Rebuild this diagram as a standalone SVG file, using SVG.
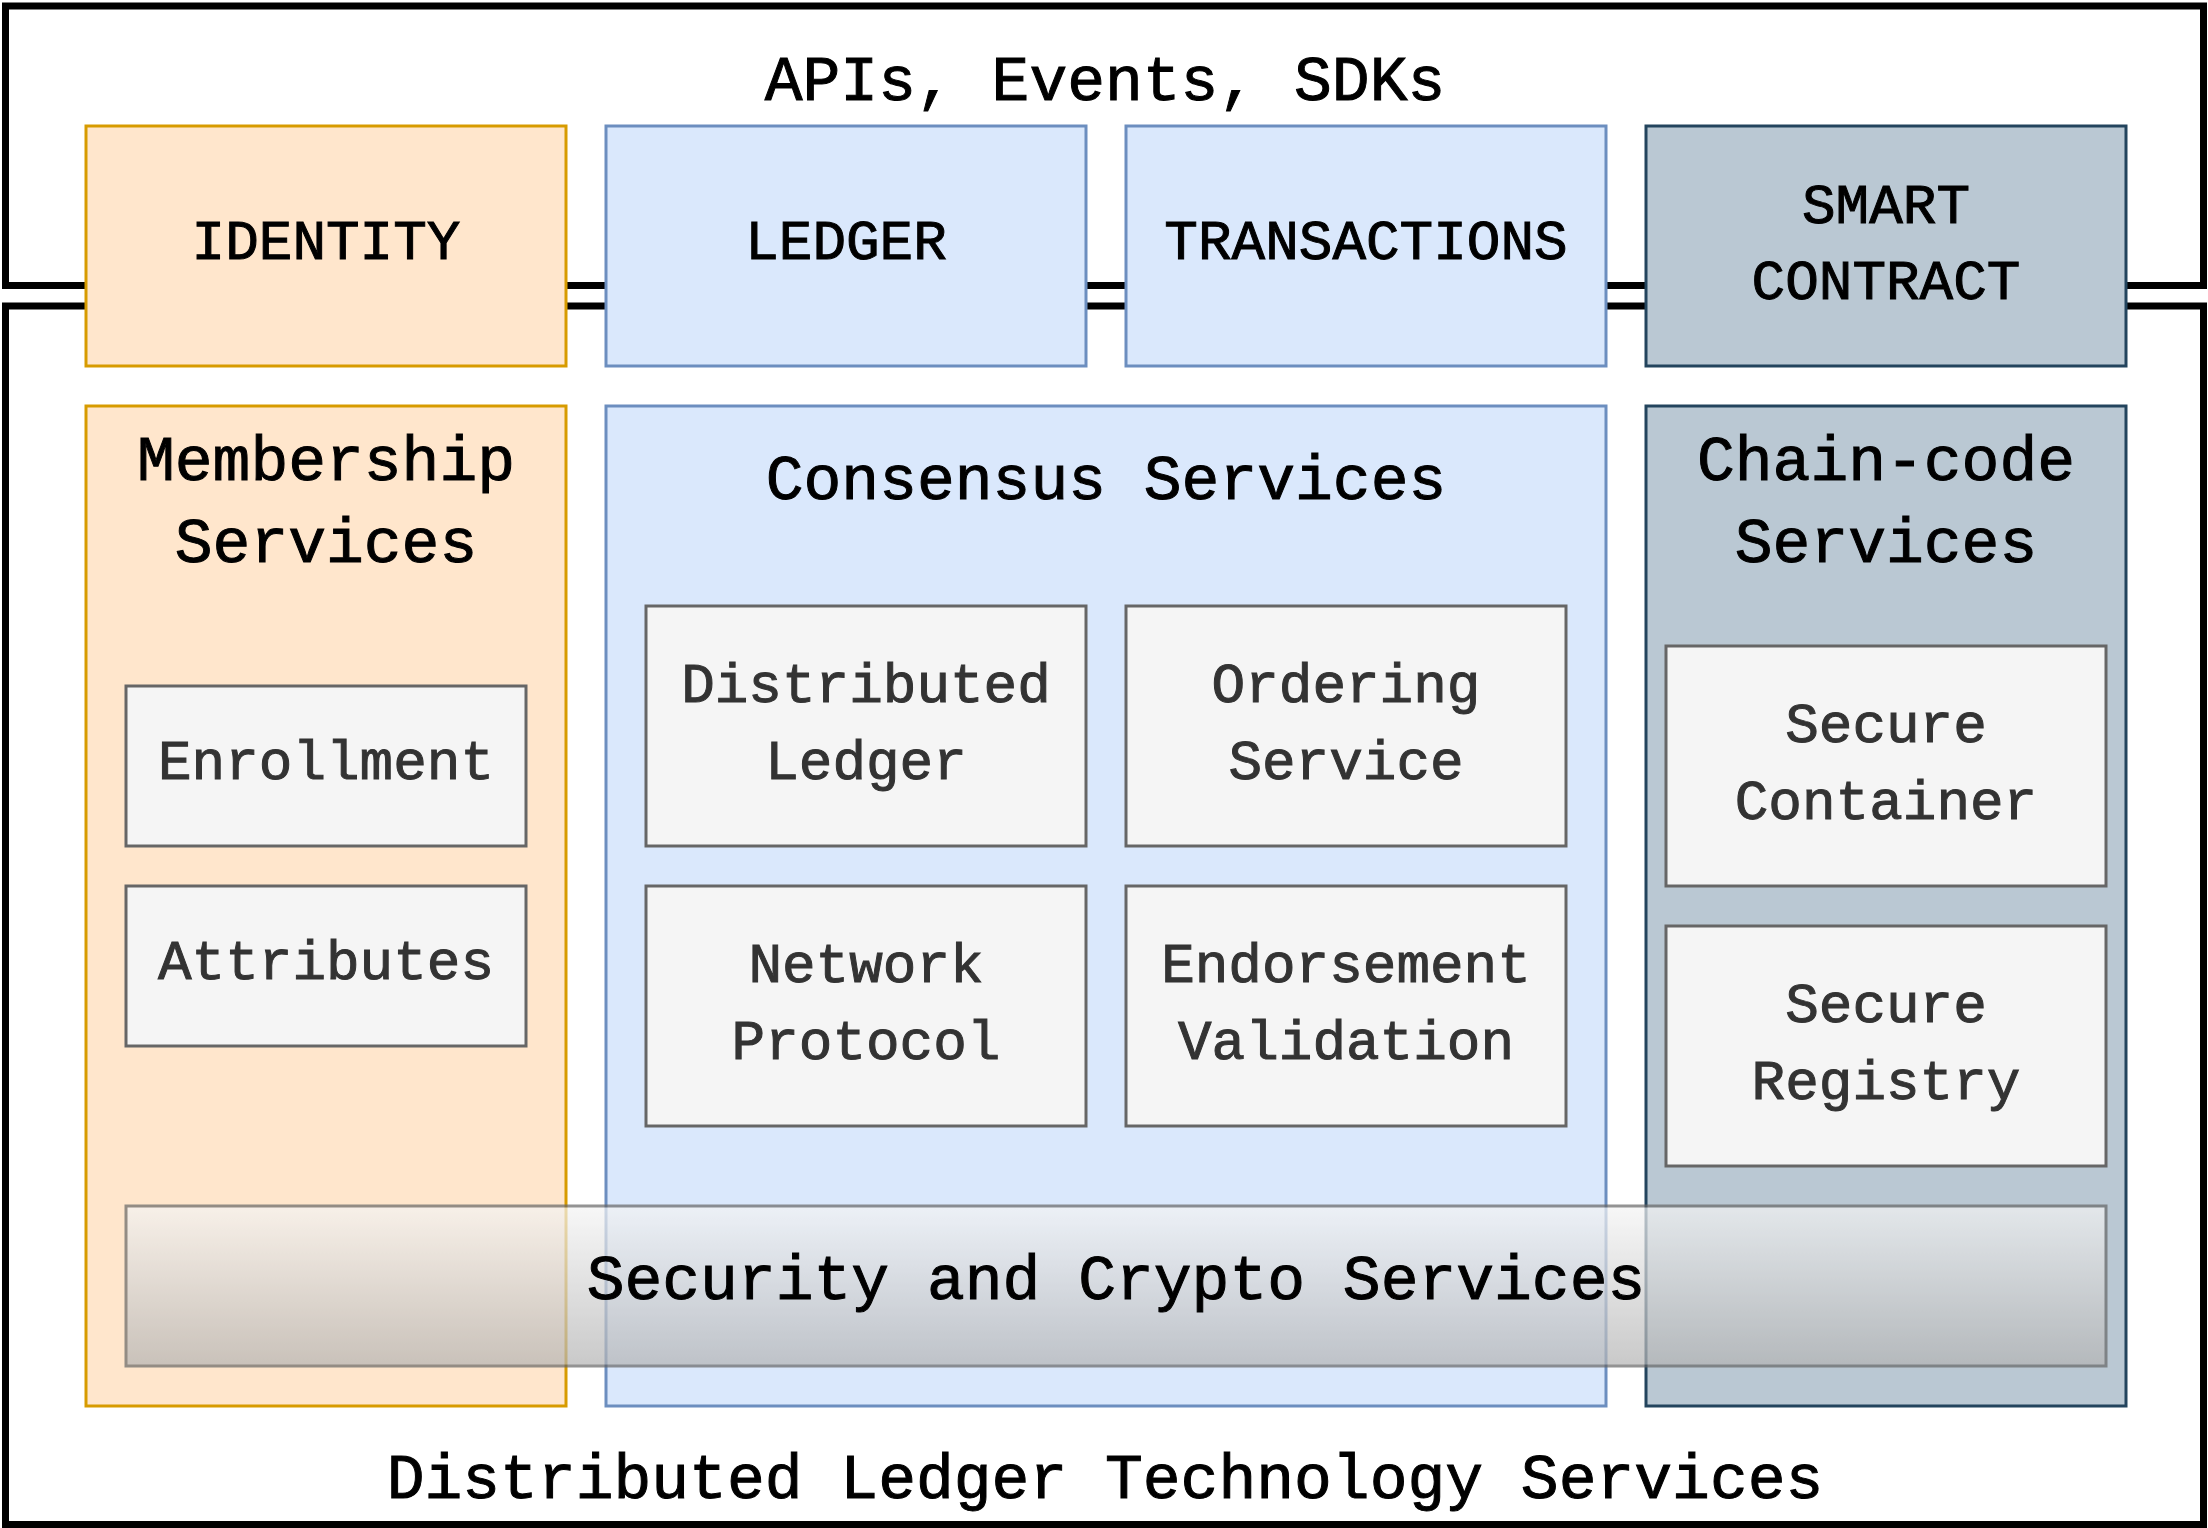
<svg xmlns="http://www.w3.org/2000/svg" width="2208" height="1528" viewBox="0 0 2208 1528">
<defs>
<linearGradient id="gSec" x1="0" y1="0" x2="0" y2="1">
<stop offset="0" stop-color="#f5f5f5"/>
<stop offset="1" stop-color="#b3b3b3"/>
</linearGradient>
<style>
.frame{fill:none;stroke:#000;stroke-width:7}
.org{fill:#ffe6cc;stroke:#d79b00;stroke-width:3}
.blu{fill:#dae8fc;stroke:#6c8ebf;stroke-width:3}
.drk{fill:#bac8d3;stroke:#23445d;stroke-width:3}
.gry{fill:#f5f5f5;stroke:#666666;stroke-width:3}
text{font-family:"Liberation Mono","Courier New",monospace;text-anchor:middle}
.t{font-size:63px;fill:#000;stroke:#000;stroke-width:1}
.l{font-size:56px;fill:#000;stroke:#000;stroke-width:1}
.g{font-size:56px;fill:#333;stroke:#333;stroke-width:1}
</style>
</defs>
<rect width="2208" height="1528" fill="#ffffff"/>
<g id="frames">
<g id="api-frame"><rect class="frame" x="5.5" y="6" width="2198" height="279.5"/>
<text class="t" x="1105" y="100">APIs, Events, SDKs</text></g>
<g id="dlt-frame"><rect class="frame" x="5.5" y="306" width="2198" height="1218.5"/>
<text class="t" x="1105" y="1498">Distributed Ledger Technology Services</text></g>
</g>
<g id="identity"><rect class="org" x="86" y="126" width="480" height="240"/><text class="l" x="326" y="259">IDENTITY</text></g>
<g id="ledger"><rect class="blu" x="606" y="126" width="480" height="240"/><text class="l" x="846" y="259">LEDGER</text></g>
<g id="transactions"><rect class="blu" x="1126" y="126" width="480" height="240"/><text class="l" x="1366" y="259">TRANSACTIONS</text></g>
<g id="smart-contract"><rect class="drk" x="1646" y="126" width="480" height="240"/><text class="l" x="1886" y="223">SMART</text><text class="l" x="1886" y="299">CONTRACT</text></g>
<g id="membership"><rect class="org" x="86" y="406" width="480" height="1000"/><text class="t" x="326" y="480">Membership</text><text class="t" x="326" y="562">Services</text></g>
<g id="consensus"><rect class="blu" x="606" y="406" width="1000" height="1000"/><text class="t" x="1106" y="499">Consensus Services</text></g>
<g id="chaincode"><rect class="drk" x="1646" y="406" width="480" height="1000"/><text class="t" x="1886" y="480">Chain-code</text><text class="t" x="1886" y="562">Services</text></g>
<g id="enrollment"><rect class="gry" x="126" y="686" width="400" height="160"/><text class="g" x="326" y="779">Enrollment</text></g>
<g id="attributes"><rect class="gry" x="126" y="886" width="400" height="160"/><text class="g" x="326" y="979">Attributes</text></g>
<g id="distributed-ledger"><rect class="gry" x="646" y="606" width="440" height="240"/><text class="g" x="866" y="702">Distributed</text><text class="g" x="866" y="779">Ledger</text></g>
<g id="ordering-service"><rect class="gry" x="1126" y="606" width="440" height="240"/><text class="g" x="1346" y="702">Ordering</text><text class="g" x="1346" y="779">Service</text></g>
<g id="network-protocol"><rect class="gry" x="646" y="886" width="440" height="240"/><text class="g" x="866" y="982">Network</text><text class="g" x="866" y="1059">Protocol</text></g>
<g id="endorsement-validation"><rect class="gry" x="1126" y="886" width="440" height="240"/><text class="g" x="1346" y="982">Endorsement</text><text class="g" x="1346" y="1059">Validation</text></g>
<g id="secure-container"><rect class="gry" x="1666" y="646" width="440" height="240"/><text class="g" x="1886" y="742">Secure</text><text class="g" x="1886" y="819">Container</text></g>
<g id="secure-registry"><rect class="gry" x="1666" y="926" width="440" height="240"/><text class="g" x="1886" y="1022">Secure</text><text class="g" x="1886" y="1099">Registry</text></g>
<g id="security-crypto"><rect x="126" y="1206" width="1980" height="160" fill="url(#gSec)" stroke="#666666" stroke-width="3" opacity="0.7"/><text class="t" x="1116" y="1299">Security and Crypto Services</text></g>
<g id="connectors"/>
</svg>
